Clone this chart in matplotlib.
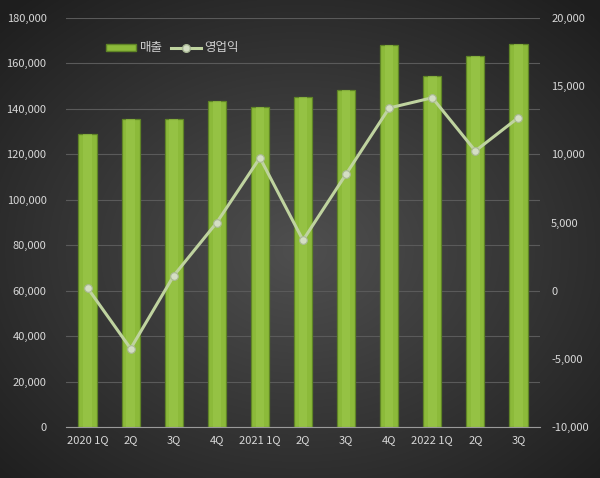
import numpy as np
import matplotlib
matplotlib.use('Agg')
import matplotlib.pyplot as plt
from matplotlib.ticker import FuncFormatter
from matplotlib.patches import Patch
from matplotlib.lines import Line2D

plt.rcParams['font.family'] = ['Noto Sans CJK KR', 'DejaVu Sans']

quarters = ['2020 1Q', '2Q', '3Q', '4Q', '2021 1Q', '2Q', '3Q', '4Q', '2022 1Q', '2Q', '3Q']
sales = [129000, 135600, 135600, 143500, 140800, 145200, 148300, 168100, 154500, 163300, 168600]
op_profit = [200, -4250, 1100, 5000, 9750, 3700, 8550, 13400, 14150, 10250, 12700]

fig = plt.figure(figsize=(6.0, 4.78), dpi=100)

# radial dark background
bg = fig.add_axes([0, 0, 1, 1])
yy, xx = np.mgrid[0:478, 0:600]
r = np.sqrt(((xx - 300) / 420.0) ** 2 + ((yy - 250) / 330.0) ** 2)
shade = np.clip(0.31 - 0.19 * r, 0.12, 0.31)
bg.imshow(np.dstack([shade, shade, shade]), aspect='auto', extent=[0, 1, 0, 1])
bg.axis('off')

ax = fig.add_axes([66 / 600, 51 / 478, 474 / 600, 409 / 478])
ax.patch.set_alpha(0)
x = np.arange(len(quarters))

ax.bar(x, sales, width=0.42, color='#8cba3a', edgecolor='#5f8426', linewidth=0.9, zorder=2)
ax.bar(x, sales, width=0.2, color='#9cc84c', linewidth=0, zorder=2, alpha=0.6)
ax.set_ylim(0, 180000)
ax.set_xlim(-0.5, len(quarters) - 0.5)
ax.set_yticks(np.arange(0, 180001, 20000))
ax.yaxis.set_major_formatter(FuncFormatter(lambda v, p: f'{int(v):,}'))
ax.grid(axis='y', color='#5a5a5a', linewidth=0.8, zorder=0)
ax.set_axisbelow(True)
ax.set_xticks(x)
ax.set_xticklabels(quarters)
for s in ['top', 'right', 'left']:
    ax.spines[s].set_visible(False)
ax.spines['bottom'].set_color('#9a9a9a')
ax.tick_params(axis='both', length=0, colors='#d8d8d8', labelsize=8)
ax.tick_params(axis='y', pad=14)
ax.tick_params(axis='x', pad=6)

ax2 = ax.twinx()
ax2.plot(x, op_profit, color='#bfd39f', linewidth=2.2, marker='o', markersize=5.5,
         markerfacecolor='#d4dec4', markeredgecolor='#a9b895', markeredgewidth=0.8, zorder=3)
ax2.set_ylim(-10000, 20000)
ax2.set_yticks(np.arange(-10000, 20001, 5000))
ax2.yaxis.set_major_formatter(FuncFormatter(lambda v, p: f'{int(v):,}'))
for s in ax2.spines.values():
    s.set_visible(False)
ax2.tick_params(axis='y', length=0, colors='#d8d8d8', labelsize=8, pad=8)

handles = [Patch(facecolor='#8cba3a', edgecolor='#5f8426'),
           Line2D([0], [0], color='#bfd39f', linewidth=2.2, marker='o', markersize=5.5,
                  markerfacecolor='#d4dec4', markeredgecolor='#a9b895')]
leg = fig.legend(handles, ['매출', '영업익'], loc='center left', bbox_to_anchor=(95 / 600, 1 - 48 / 478),
                 ncol=2, frameon=False, fontsize=9, labelcolor='#d0d0d0',
                 handlelength=2.4, handleheight=0.5, columnspacing=0.6, handletextpad=0.3)

fig.savefig('out.png', dpi=100)
